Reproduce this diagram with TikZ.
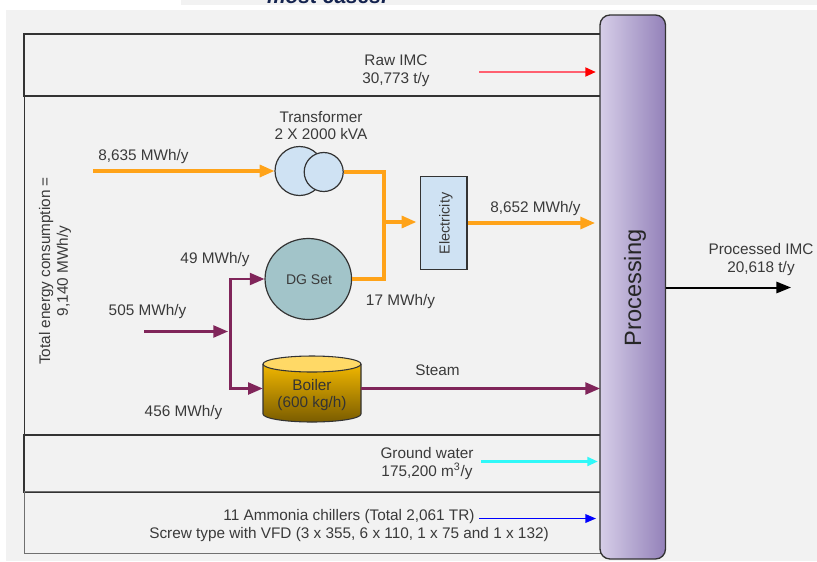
\documentclass[tikz,border=0pt]{standalone}
\usepackage{fontspec}
\setmainfont{Liberation Sans}
\usetikzlibrary{arrows.meta,calc,shapes.geometric}
\definecolor{panel}{HTML}{F2F2F2}
\definecolor{ink}{HTML}{3A3A3A}
\definecolor{frame}{HTML}{333333}
\definecolor{elec}{HTML}{FFA319}
\definecolor{fuel}{HTML}{80255A}
\definecolor{paleblue}{HTML}{CFE2F3}
\definecolor{dgfill}{HTML}{A2C4C9}
\definecolor{procL}{HTML}{D6CEE8}
\definecolor{procR}{HTML}{9381B9}
\definecolor{boilT}{HTML}{F1B700}
\definecolor{boilB}{HTML}{7A5C00}
\definecolor{boilC}{HTML}{FFD966}
\definecolor{rawred}{HTML}{FF6070}
\definecolor{gwcyan}{HTML}{30F8F8}
\definecolor{notecol}{HTML}{14234F}
\tikzset{
  x=0.75pt,y=-0.75pt,
  band/.style={draw=frame,line width=1.2pt,inner sep=0pt,anchor=north west},
  lbl/.style={text=ink,font=\fontsize{11.5}{13.2}\selectfont,align=center,inner sep=0pt},
  part/.style={draw=frame,line width=0.9pt,inner sep=0pt},
  bigflow/.style={-{Triangle[length=11pt,width=9pt]}},
  elecline/.style={elec,line width=2.3pt},
  fuelline/.style={fuel,line width=1.7pt},
  thinflow/.style={line width=2pt,-{Triangle[length=8pt,width=6.5pt]}},
}
\begin{document}
\begin{tikzpicture}
\useasboundingbox (0,0) rectangle (817,561);
% page background
\fill[white] (0,0) rectangle (817,561);
\fill[panel] (181,0) rectangle (817,5);
\begin{scope}
  \clip (181,0) rectangle (817,5);
  \node[font=\bfseries\itshape\fontsize{15.7}{15.7}\selectfont,text=notecol,inner sep=0pt,anchor=base] (note) at (327,3) {most cases.};
\end{scope}
\fill[panel] (6,9.5) rectangle (817,561);
% bands
\node[band,minimum width=432.75pt,minimum height=46.5pt] (rawband) at (23,33) {};
\node[band,line width=1pt,minimum width=432pt,minimum height=254.25pt] (energyband) at (24,95) {};
\node[band,minimum width=432.75pt,minimum height=42.75pt] (gwband) at (23,434) {};
\node[band,line width=1pt,draw=frame!70,minimum width=432pt,minimum height=46.5pt] (chillband) at (24,491) {};
% processing
\node[draw=frame,line width=1pt,rounded corners=7.5pt,inner sep=0pt,
      minimum width=49.1pt,minimum height=408pt,left color=procL,right color=procR] (proc) at (632.75,287) {};
\node[rotate=90,text=black!85,font=\fontsize{17.7}{18}\selectfont,inner sep=0pt] (proclabel) at (635,288) {Processing};
% transformer
\node[part,circle,fill=paleblue,minimum size=36.75pt] (xfa) at (299.5,171) {};
\node[part,circle,fill=paleblue,minimum size=29.25pt] (xfb) at (323.7,172) {};
% electricity
\node[part,fill=paleblue,minimum width=34.9pt,minimum height=69.4pt] (elecbox) at (443.7,223) {};
\node[rotate=90,lbl,font=\fontsize{10.8}{12}\selectfont] (eleclabel) at (446,223.5) {Electricity};
% DG set
\node[part,ellipse,fill=dgfill,minimum width=64.9pt,minimum height=60.75pt] (dg) at (308.3,279) {};
\node[lbl,font=\fontsize{10.5}{12}\selectfont] (dglabel) at (309,279.5) {DG Set};
% boiler
\shade[top color=boilT,bottom color=boilB]
  (263,364) -- (263,414) arc[start angle=180,end angle=0,x radius=49,y radius=8]
  -- (361,364) -- cycle;
\draw[frame,line width=0.8pt] (263,364) -- (263,414) arc[start angle=180,end angle=0,x radius=49,y radius=8] -- (361,364);
\draw[frame,line width=0.8pt,fill=boilC] (312,364) ellipse[x radius=49,y radius=8];
\node[inner sep=0pt,minimum width=73.5pt,minimum height=49.5pt] (boiler) at (312,388.5) {};
\node[lbl,text=black!80] (boilerlabel) at (312,395) {Boiler\\(600 kg/h)};
% free ends
\coordinate (rawin) at (479,72);
\coordinate (rawout) at (596,72);
\coordinate (gwin) at (481,461.5);
\coordinate (gwout) at (598,461.5);
\coordinate (chin) at (479,518.5);
\coordinate (chout) at (596,518.5);
\coordinate (gridin) at (93,171);
\coordinate (elecbus) at (384,222);
\coordinate (fuelin) at (144,331.5);
\coordinate (fueltip) at (228,331.5);
\coordinate (fuelbus) at (230.5,331.5);
\coordinate (elecend) at (595,223);
\coordinate (steamend) at (600,388.5);
\coordinate (prodout) at (791,287.5);
\coordinate (prodstart) at (665.5,287.5);
% connectors
\draw[thinflow,rawred,-{Triangle[length=8pt,width=6.5pt,red]}] (rawin) -- (rawout);
\draw[thinflow,gwcyan] (gwin) -- (gwout);
\draw[line width=1.1pt,-{Triangle[length=8pt,width=6.5pt]},blue] (chin) -- (chout);
\draw[elecline,bigflow] (gridin) -- (xfa.west);
\draw[elecline] (xfb.east) -- (elecbus |- xfb.east) -- (elecbus |- dg.east) -- (dg.east);
\draw[elecline,bigflow] (elecbus) ++(2,0) -- ($(elecbox.west)+(-3.5,-1)$);
\draw[elecline,bigflow] (elecbox.east) -- (elecend);
\draw[fuelline,bigflow] (fuelin) -- (fueltip);
\draw[fuelline,bigflow] (fuelbus) -- (fuelbus |- dg.west) -- (dg.west);
\draw[fuelline,bigflow] (fuelbus) -- (fuelbus |- boiler.west) -- (boiler.west);
\draw[fuelline,bigflow] (boiler.east) -- (steamend);
\draw[black,line width=1.5pt,-{Triangle[length=11pt,width=8.5pt]}] (prodstart) -- (prodout);
% labels
\node[lbl] (rawlabel) at (396,71) {Raw IMC\\30,773 t/y};
\node[lbl] (xflabel) at (321,125.5) {Transformer\\2 X 2000 kVA};
\node[lbl] (gridlabel) at (143.5,157) {8,635 MWh/y};
\node[lbl] (outlabel) at (535.5,208.5) {8,652 MWh/y};
\node[lbl] (dginlabel) at (215,259.5) {49 MWh/y};
\node[lbl] (dgoutlabel) at (400.5,301.5) {17 MWh/y};
\node[lbl] (fuellabel) at (147.5,312) {505 MWh/y};
\node[lbl] (boilinlabel) at (183.5,412.5) {456 MWh/y};
\node[lbl] (steamlabel) at (437.5,370) {Steam};
\node[lbl] (prodlabel) at (761,259.5) {Processed IMC\\20,618 t/y};
\node[lbl,rotate=90] (totallabel) at (55,271) {Total energy consumption =\\9,140 MWh/y};
\node[lbl] (gwlabel) at (427,463.5) {Ground water\\175,200 m\textsuperscript{3}/y};
\node[lbl] (chlabel) at (349,525.5) {11 Ammonia chillers (Total 2,061 TR)\\Screw type with VFD (3 x 355, 6 x 110, 1 x 75 and 1 x 132)};
\end{tikzpicture}
\end{document}
